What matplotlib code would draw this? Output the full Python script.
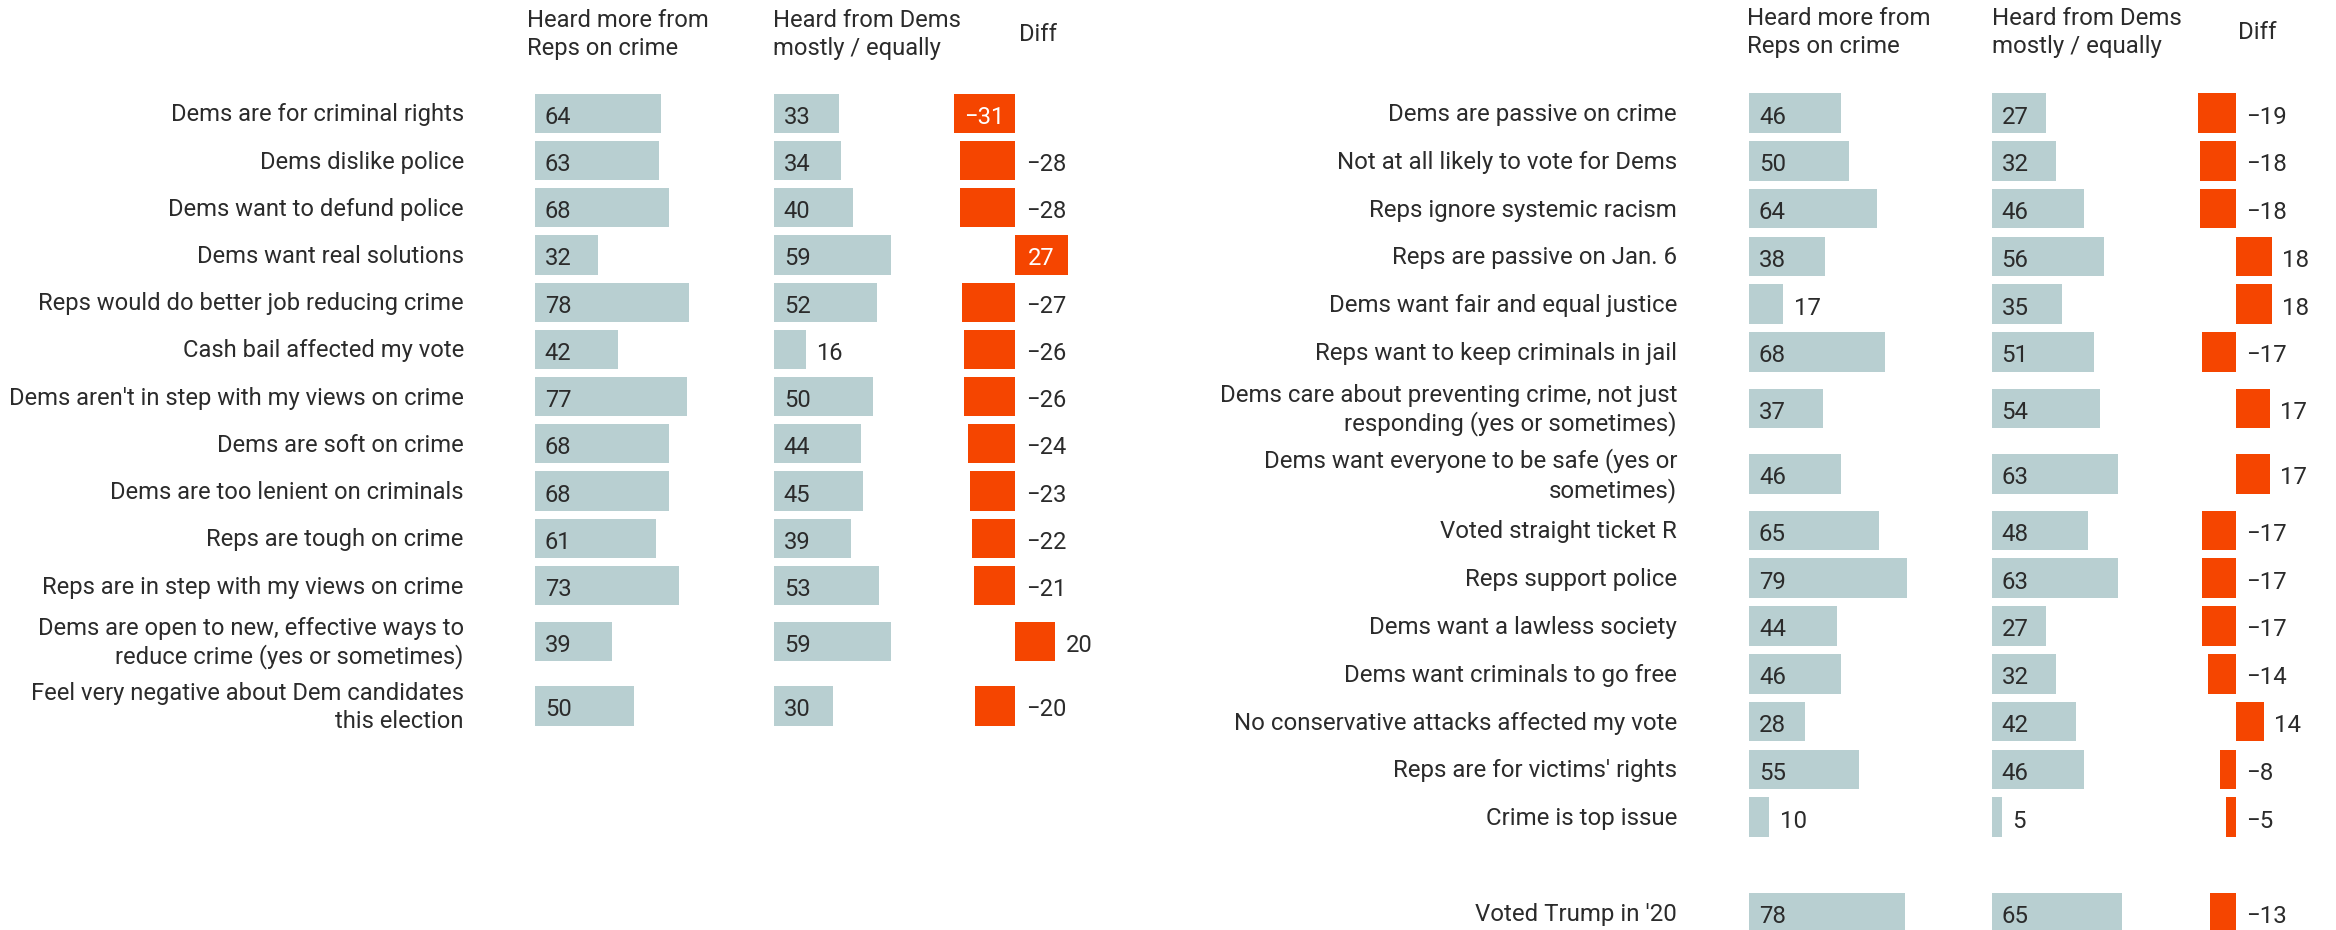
import matplotlib.pyplot as plt
from matplotlib.transforms import offset_copy

plt.rcParams['font.family'] = ['Roboto', 'DejaVu Sans']

FIG_W, FIG_H, DPI = 2336, 930, 100
TEXT = '#2b2b2b'
GREY = '#b8cfd1'
ORANGE = '#f54500'

# Left block
left_labels = [
    "Dems are for criminal rights",
    "Dems dislike police",
    "Dems want to defund police",
    "Dems want real solutions",
    "Reps would do better job reducing crime",
    "Cash bail affected my vote",
    "Dems aren't in step with my views on crime",
    "Dems are soft on crime",
    "Dems are too lenient on criminals",
    "Reps are tough on crime",
    "Reps are in step with my views on crime",
    "Dems are open to new, effective ways to\nreduce crime (yes or sometimes)",
    "Feel very negative about Dem candidates\nthis election",
]
left_reps = [64, 63, 68, 32, 78, 42, 77, 68, 68, 61, 73, 39, 50]
left_dems = [33, 34, 40, 59, 52, 16, 50, 44, 45, 39, 53, 59, 30]
left_diff = [-31, -28, -28, 27, -27, -26, -26, -24, -23, -22, -21, 20, -20]

# Right block
right_labels = [
    "Dems are passive on crime",
    "Not at all likely to vote for Dems",
    "Reps ignore systemic racism",
    "Reps are passive on Jan. 6",
    "Dems want fair and equal justice",
    "Reps want to keep criminals in jail",
    "Dems care about preventing crime, not just\nresponding (yes or sometimes)",
    "Dems want everyone to be safe (yes or\nsometimes)",
    "Voted straight ticket R",
    "Reps support police",
    "Dems want a lawless society",
    "Dems want criminals to go free",
    "No conservative attacks affected my vote",
    "Reps are for victims' rights",
    "Crime is top issue",
    "Voted Trump in '20",
]
right_reps = [46, 50, 64, 38, 17, 68, 37, 46, 65, 79, 44, 46, 28, 55, 10, 78]
right_dems = [27, 32, 46, 56, 35, 51, 54, 63, 48, 63, 27, 32, 42, 46, 5, 65]
right_diff = [-19, -18, -18, 18, 18, -17, 17, 17, -17, -17, -17, -14, 14, -8, -5, -13]

col_titles = ["Heard more from\nReps on crime", "Heard from Dems\nmostly / equally", "Diff"]


def fmt(v):
    return str(v).replace('-', '\u2212')


def row_centers(labels, top, pitch, tall, gaps):
    heights = [tall if '\n' in lab else pitch for lab in labels]
    ys = [top]
    for i in range(1, len(labels)):
        ys.append(ys[-1] + heights[i - 1] / 2 + heights[i] / 2 + gaps.get(i, 0) * pitch)
    return ys


def make_axes(fig, x0, width):
    ax = fig.add_axes([x0 / FIG_W, 0, width / FIG_W, 1])
    ax.set_ylim(FIG_H, 0)
    ax.axis('off')
    return ax


def draw_panel(fig, labels, reps, dems, diff, layout):
    s = layout['scale']
    ppu = 2.0 * s                      # pixels per percentage point
    fs = 17.3 * s
    ys = row_centers(labels, layout['top'], 47.8 * s, 65.3 * s, layout.get('gaps', {}))
    bar_h = 39.7 * s
    nudge = -1.5                       # text sits a touch below the bar centre

    ax_reps = make_axes(fig, layout['reps_x'], 100 * ppu)
    ax_reps.set_xlim(0, 100)
    ax_dems = make_axes(fig, layout['dems_x'], 100 * ppu)
    ax_dems.set_xlim(0, 100)
    ax_diff = make_axes(fig, layout['diff_zero'] - 40 * ppu, 80 * ppu)
    ax_diff.set_xlim(-40, 40)

    for ax, vals in ((ax_reps, reps), (ax_dems, dems)):
        ax.barh(ys, vals, height=bar_h, color=GREY, linewidth=0)
        inside = offset_copy(ax.transData, fig, x=10 * s, y=nudge, units='dots')
        outside = offset_copy(ax.transData, fig, x=11 * s, y=nudge, units='dots')
        for y, v in zip(ys, vals):
            if v >= 20:
                ax.text(0, y, fmt(v), transform=inside, ha='left', va='center_baseline',
                        fontsize=fs, color=TEXT)
            else:
                ax.text(v, y, fmt(v), transform=outside, ha='left', va='center_baseline',
                        fontsize=fs, color=TEXT)

    ax_diff.barh(ys, diff, height=bar_h, color=ORANGE, linewidth=0)
    centre = offset_copy(ax_diff.transData, fig, y=nudge, units='dots')
    outside = offset_copy(ax_diff.transData, fig, x=11 * s, y=nudge, units='dots')
    for y, d in zip(ys, diff):
        if d >= 25 or d <= -30:
            ax_diff.text(d / 2, y, fmt(d), transform=centre, ha='center',
                         va='center_baseline', fontsize=fs, color='white')
        else:
            ax_diff.text(max(d, 0), y, fmt(d), transform=outside, ha='left',
                         va='center_baseline', fontsize=fs, color=TEXT)

    # category labels, right aligned before the first column
    lab_tr = offset_copy(ax_reps.transData, fig, x=-72 * s, y=nudge, units='dots')
    for y, lab in zip(ys, labels):
        ax_reps.text(0, y, lab, transform=lab_tr, ha='right', va='center',
                     fontsize=fs, color=TEXT, linespacing=1.24)

    # column headers
    b1, b2 = layout['head_y']
    for hx, title in zip(layout['head_x'][:2], col_titles[:2]):
        l1, l2 = title.split('\n')
        fig.text(hx / FIG_W, 1 - b1 / FIG_H, l1, ha='left', va='baseline', fontsize=fs, color=TEXT)
        fig.text(hx / FIG_W, 1 - b2 / FIG_H, l2, ha='left', va='baseline', fontsize=fs, color=TEXT)
    fig.text(layout['head_x'][2] / FIG_W, 1 - (b1 + b2) / 2 / FIG_H, col_titles[2],
             ha='left', va='baseline', fontsize=fs, color=TEXT)


fig = plt.figure(figsize=(FIG_W / DPI, FIG_H / DPI), dpi=DPI)
fig.patch.set_facecolor('white')

draw_panel(fig, left_labels, left_reps, left_dems, left_diff, {
    'scale': 0.988, 'top': 113.3,
    'reps_x': 535, 'dems_x': 774, 'diff_zero': 1015,
    'head_x': (527, 773, 1019), 'head_y': (26.7, 55.0),
})
draw_panel(fig, right_labels, right_reps, right_dems, right_diff, {
    'scale': 1.0, 'top': 113.0, 'gaps': {15: 1},
    'reps_x': 1749, 'dems_x': 1991.5, 'diff_zero': 2235.5,
    'head_x': (1747, 1992, 2238), 'head_y': (25.0, 53.0),
})

fig.savefig('out.png', dpi=DPI, facecolor='white')
